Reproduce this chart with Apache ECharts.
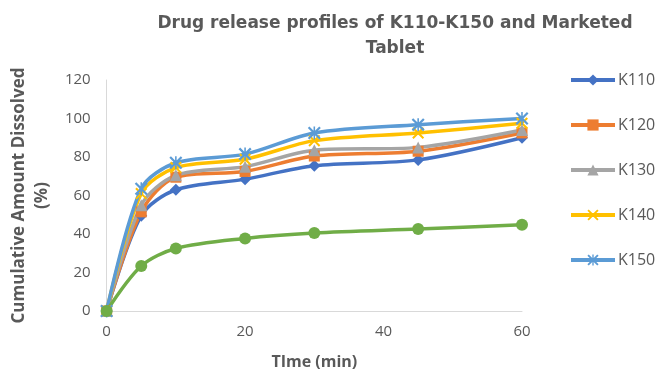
<!DOCTYPE html>
<html>
<head>
<meta charset="utf-8">
<script src="https://cdn.jsdelivr.net/npm/echarts@6/dist/echarts.min.js"></script>
<style>html,body{margin:0;padding:0;background:#fff;}#c{width:664px;height:376px;}</style>
</head>
<body>
<div id="c"></div>
<script>
var timeMin = [0, 5, 10, 20, 30, 45, 60];
var K110 = [0, 49.5, 63, 68.5, 75.5, 78.5, 90];
var K120 = [0, 51.5, 69.5, 72.5, 80.5, 83, 92.5];
var K130 = [0, 55, 70.5, 75, 83.5, 85, 94];
var K140 = [0, 61, 74.5, 78.8, 88.5, 92.5, 97.5];
var K150 = [0, 63.5, 77, 81.5, 92.5, 96.8, 100];
var Marketed = [0, 23.4, 32.5, 37.7, 40.5, 42.6, 44.8];
var seriesNames = ['K110', 'K120', 'K130', 'K140', 'K150'];
var titleText = 'Drug release profiles of K110-K150 and Marketed\nTablet';
var xName = 'TIme (min)';
var yName = 'Cumulative Amount Dissolved\n(%)';

function pairs(ys) { return timeMin.map(function (t, i) { return [t, ys[i]]; }); }

var crossPath = 'path://M0,1.2L1.2,0L10,8.8L8.8,10ZM8.8,0L10,1.2L1.2,10L0,8.8Z';
var starPath = 'path://M0,1.2L1.2,0L10,8.8L8.8,10ZM8.8,0L10,1.2L1.2,10L0,8.8ZM4.4,0L5.6,0L5.6,10L4.4,10Z';

var defs = [
  { name: 'K110', data: K110, color: '#4472C4', symbol: 'diamond', size: 12 },
  { name: 'K120', data: K120, color: '#ED7D31', symbol: 'rect', size: 11 },
  { name: 'K130', data: K130, color: '#A5A5A5', symbol: 'triangle', size: 12 },
  { name: 'K140', data: K140, color: '#FFC000', symbol: crossPath, size: 12 },
  { name: 'K150', data: K150, color: '#5B9BD5', symbol: starPath, size: 13 },
  { name: 'Marketed Tablet', data: Marketed, color: '#70AD47', symbol: 'circle', size: 12 }
];

var series = defs.map(function (d) {
  return {
    name: d.name,
    type: 'line',
    data: pairs(d.data),
    smooth: 0.3,
    symbol: d.symbol,
    symbolSize: d.size,
    showAllSymbol: true,
    lineStyle: { color: d.color, width: 3.5 },
    itemStyle: { color: d.color, borderWidth: 0 },
    emphasis: { disabled: true }
  };
});

var chart = echarts.init(document.getElementById('c'), null, { renderer: 'canvas' });
chart.setOption({
  animation: false,
  backgroundColor: '#ffffff',
  color: defs.map(function (d) { return d.color; }),
  title: {
    text: titleText,
    left: 390,
    top: 6,
    textAlign: 'center',
    textStyle: {
      fontFamily: 'DejaVu Sans',
      fontWeight: 'bold',
      fontSize: 17,
      color: '#595959',
      lineHeight: 25
    }
  },
  legend: {
    data: seriesNames,
    orient: 'vertical',
    left: 564,
    top: 67,
    itemWidth: 44,
    itemHeight: 14,
    itemGap: 29,
    lineStyle: { width: 4 },
    textStyle: { fontFamily: 'Open Sans', fontSize: 16, color: '#595959', padding: [0, 0, 0, -2] },
    selectedMode: false
  },
  grid: { left: 104, right: 142, top: 80, bottom: 65 },
  xAxis: {
    type: 'value',
    min: 0,
    max: 60,
    interval: 20,
    name: xName,
    nameLocation: 'middle',
    nameGap: 43,
    nameTextStyle: { fontFamily: 'Open Sans', fontWeight: 'bold', fontSize: 16, color: '#595959' },
    axisLine: { show: true, lineStyle: { color: '#D9D9D9', width: 1 } },
    axisTick: { show: false },
    splitLine: { show: false },
    axisLabel: { fontFamily: 'Open Sans', fontSize: 15, color: '#595959', margin: 13 }
  },
  yAxis: {
    type: 'value',
    min: 0,
    max: 120,
    interval: 20,
    name: yName,
    nameLocation: 'middle',
    nameGap: 50,
    nameTextStyle: { fontFamily: 'Open Sans', fontWeight: 'bold', fontSize: 17, color: '#595959', lineHeight: 23 },
    axisLine: { show: true, lineStyle: { color: '#D9D9D9', width: 1 } },
    axisTick: { show: false },
    splitLine: { show: false },
    axisLabel: { fontFamily: 'Open Sans', fontSize: 15, color: '#595959', margin: 16 }
  },
  series: series
});
</script>
</body>
</html>
